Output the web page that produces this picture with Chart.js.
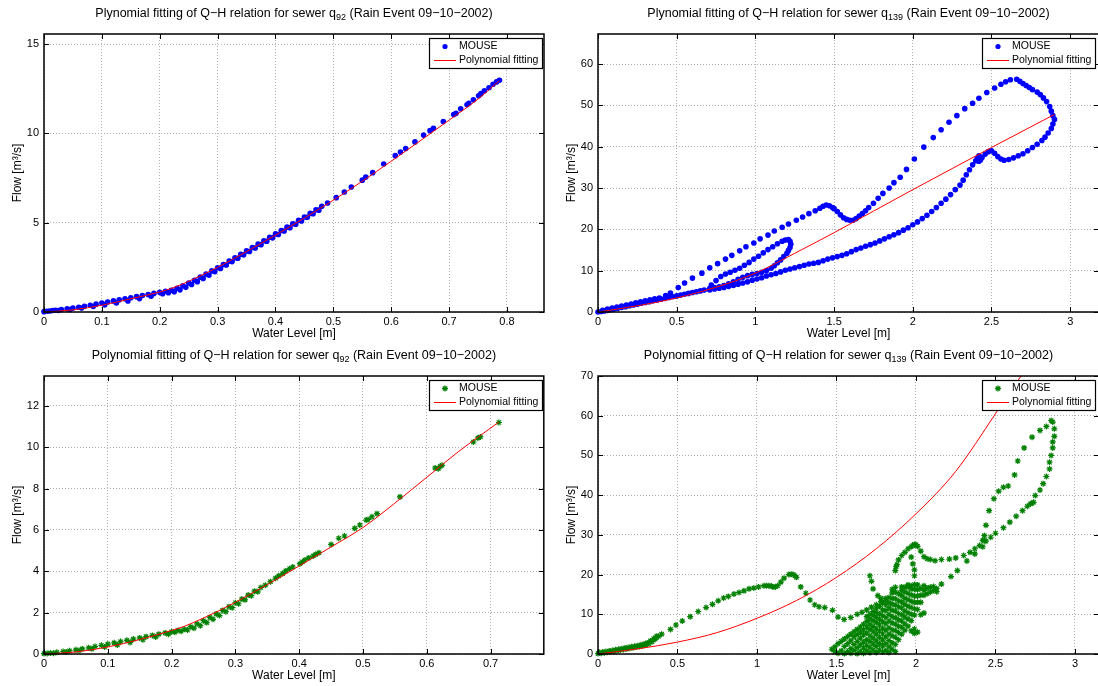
<!DOCTYPE html>
<html>
<head>
<meta charset="utf-8">
<script src="https://cdn.jsdelivr.net/npm/chart.js@4.4.1/dist/chart.umd.min.js"></script>
<style>
  body { margin: 0; width: 1098px; height: 686px; overflow: hidden; background: #fff; position: relative; }
  canvas { position: absolute; }
</style>
</head>
<body>
<canvas id="q92a" width="548" height="342" style="left:0;top:0"></canvas>
<canvas id="q139a" width="560" height="342" style="left:554px;top:0"></canvas>
<canvas id="q92b" width="548" height="342" style="left:0;top:342px"></canvas>
<canvas id="q139b" width="560" height="342" style="left:554px;top:342px"></canvas>
<script>
// [water level m, flow m3/s]

// top left: q92, blue
const mouseQ92Blue = [
  [0,0.02],[0.005,0.04],[0.01,0.06],[0.015,0.08],[0.02,0.1],[0.03,0.14],[0.04,0.18],[0.05,0.22],[0.06,0.27],[0.07,0.32],
  [0.08,0.38],[0.09,0.44],[0.1,0.5],[0.11,0.56],[0.12,0.62],[0.13,0.68],[0.14,0.74],[0.15,0.8],[0.16,0.86],[0.17,0.92],
  [0.18,0.98],[0.19,1.04],[0.2,1.1],[0.21,1.16],[0.22,1.22],[0.23,1.33],[0.24,1.47],[0.25,1.62],[0.26,1.78],[0.27,1.95],
  [0.28,2.12],[0.29,2.3],[0.3,2.48],[0.31,2.66],[0.32,2.85],[0.33,3.04],[0.34,3.23],[0.35,3.42],[0.36,3.61],[0.37,3.8],
  [0.38,3.99],[0.39,4.18],[0.4,4.37],[0.41,4.56],[0.42,4.75],[0.43,4.94],[0.44,5.13],[0.45,5.32],[0.46,5.52],[0.47,5.72],[0.48,5.92],
  [0.025,0.08],[0.045,0.14],[0.065,0.22],[0.085,0.31],[0.105,0.4],[0.125,0.5],[0.145,0.62],[0.165,0.75],[0.185,0.88],[0.205,1.02],
  [0.215,1.08],[0.225,1.14],[0.235,1.24],[0.245,1.38],[0.255,1.54],[0.265,1.7],[0.275,1.88],[0.285,2.06],[0.295,2.25],[0.305,2.44],
  [0.315,2.63],[0.325,2.82],[0.335,3.01],[0.345,3.2],[0.355,3.39],[0.365,3.58],[0.375,3.77],[0.385,3.96],[0.395,4.15],[0.405,4.34],
  [0.415,4.53],[0.425,4.72],[0.435,4.91],[0.445,5.1],[0.455,5.3],[0.465,5.5],[0.475,5.7],
  [0.49,6.1],[0.505,6.4],[0.519,6.72],[0.531,7.0],[0.55,7.38],[0.556,7.55],[0.568,7.8],[0.587,8.28],[0.607,8.75],[0.616,8.95],
  [0.625,9.15],[0.641,9.52],[0.656,9.9],[0.667,10.15],[0.673,10.28],[0.69,10.66],[0.708,11.05],[0.712,11.12],[0.72,11.38],[0.731,11.6],
  [0.734,11.68],[0.742,11.88],[0.751,12.1],[0.755,12.22],[0.761,12.38],[0.769,12.55],[0.776,12.75],[0.782,12.88],[0.787,12.97]
];
const fitQ92Blue = [
  [0,0],[0.05,0.12],[0.1,0.38],[0.15,0.74],[0.2,1.12],[0.22,1.32],[0.25,1.72],[0.3,2.5],[0.35,3.38],
  [0.4,4.3],[0.45,5.26],[0.5,6.26],[0.55,7.32],[0.6,8.44],[0.65,9.58],[0.7,10.74],[0.75,11.92],[0.787,12.95]
];

// top right: q139, blue
const mouseQ139Blue = [
  [0,0],[0.02,0.1],[0.04,0.25],[0.06,0.4],[0.08,0.55],[0.1,0.7],[0.125,0.9],[0.15,1.1],[0.175,1.3],[0.2,1.5],
  [0.225,1.7],[0.25,1.9],[0.275,2.1],[0.3,2.3],[0.325,2.5],[0.35,2.7],[0.375,2.9],[0.4,3.1],[0.425,3.3],[0.45,3.5],
  [0.475,3.7],[0.5,3.9],[0.525,4.1],[0.55,4.3],[0.575,4.5],[0.6,4.7],[0.625,4.9],[0.65,5.1],[0.675,5.3],
  [0.03,0.4],[0.06,0.7],[0.09,0.95],[0.12,1.2],[0.15,1.45],[0.18,1.7],[0.21,1.95],[0.24,2.2],[0.27,2.45],[0.3,2.7],
  [0.33,2.95],[0.36,3.2],[0.39,3.4],
  [0.43,4.0],[0.46,4.6],[0.51,5.9],[0.55,7.0],[0.6,8.2],[0.66,9.4],[0.71,10.7],[0.76,11.7],[0.81,12.8],[0.85,13.7],
  [0.9,14.8],[0.94,15.8],[0.99,16.7],[1.03,17.7],[1.08,18.6],[1.12,19.6],[1.17,20.5],[1.21,21.3],[1.26,22.2],[1.3,23.0],
  [1.34,23.8],[1.38,24.5],[1.41,25.1],[1.43,25.6],[1.45,25.9],[1.47,25.7],[1.49,25.3],[1.5,25.0],[1.52,24.3],[1.54,23.5],
  [1.56,22.8],[1.58,22.4],[1.6,22.2],[1.62,22.2],[1.64,22.6],[1.66,23.2],[1.68,23.8],[1.7,24.5],[1.72,25.3],[1.75,26.3],
  [1.78,27.5],[1.81,28.7],[1.85,30.0],[1.88,31.3],[1.92,32.6],[1.96,34.5],[2.01,37.0],[2.07,39.9],[2.13,42.2],[2.18,44.1],
  [2.23,45.9],[2.28,47.5],[2.33,49.2],[2.38,50.5],[2.42,51.7],[2.47,53.1],[2.52,54.2],[2.56,55.1],[2.59,55.7],[2.62,56.2],
  [2.66,56.3],[2.68,55.8],[2.7,55.3],[2.72,54.8],[2.74,54.3],[2.76,53.8],[2.79,53.2],[2.81,52.6],[2.83,51.8],[2.85,50.9],
  [2.87,49.7],[2.88,48.6],[2.89,47.5],[2.9,46.6],[2.89,45.5],[2.88,44.4],[2.86,43.3],[2.84,42.3],[2.82,41.5],[2.79,40.6],
  [2.76,39.8],[2.73,39.0],[2.7,38.3],[2.67,37.8],[2.64,37.3],[2.61,36.9],[2.58,36.7],[2.56,37.0],[2.54,37.6],[2.52,38.4],
  [2.5,39.0],[2.48,38.8],[2.46,38.2],[2.44,37.4],[2.43,36.8],[2.42,36.5],[2.41,37.2],[2.42,37.8],[2.4,36.6],
  [2.38,35.6],[2.36,34.4],[2.34,33.2],[2.32,31.9],[2.3,30.7],[2.27,29.6],[2.24,28.4],[2.21,27.3],[2.18,26.3],[2.15,25.3],
  [2.12,24.3],[2.09,23.4],[2.06,22.6],[2.03,21.8],[2.0,21.1],[1.97,20.4],[1.94,19.8],[1.91,19.2],[1.88,18.7],[1.85,18.2],
  [1.82,17.7],[1.79,17.2],[1.76,16.7],[1.73,16.3],[1.7,15.9],[1.67,15.5],[1.64,15.1],[1.61,14.6],[1.58,14.1],[1.55,13.7],
  [1.52,13.4],[1.49,13.1],[1.46,12.8],[1.43,12.4],[1.4,12.0],[1.37,11.8],[1.34,11.6],[1.31,11.3],[1.28,11.0],[1.25,10.7],
  [1.22,10.4],[1.19,10.1],[1.16,9.7],[1.13,9.3],[1.1,9.0],[1.07,8.7],[1.04,8.3],[1.01,8.0],[0.98,7.7],[0.95,7.3],
  [0.92,7.0],[0.89,6.7],[0.86,6.4],[0.83,6.2],[0.8,5.95],[0.77,5.75],[0.74,5.55],[0.71,5.35],
  [0.72,6.5],[0.75,7.6],[0.78,8.6],[0.81,9.2],[0.84,9.6],[0.87,10.1],[0.9,10.6],[0.93,11.3],[0.96,12.0],[0.99,12.8],
  [1.02,13.5],[1.05,14.3],[1.08,15.1],[1.11,15.8],[1.14,16.5],[1.17,17.1],[1.19,17.4],[1.21,17.5],[1.22,17.1],[1.225,16.4],
  [1.22,15.6],[1.21,14.9],[1.2,14.2],[1.18,13.4],[1.16,12.6],[1.14,11.9],[1.12,11.2],[1.1,10.6],[1.07,10.0],[1.04,9.6],
  [1.01,9.3],[0.98,9.1],[0.95,8.8],[0.92,8.4],[0.89,7.9],[0.86,7.3],[0.83,6.8],[0.8,6.4],[0.77,6.1],[0.74,5.9],[0.71,5.7]
];
const fitQ139Blue = [
  [0,0],[0.25,1.5],[0.5,3.4],[0.75,6.0],[1.0,9.4],[1.25,14.2],[1.5,19.2],[1.75,24.4],[2.0,29.6],
  [2.25,34.7],[2.5,39.8],[2.75,44.8],[2.9,47.8]
];

// bottom left: q92, green
const mouseQ92Green = [
  [0,0.02],[0.005,0.03],[0.01,0.05],[0.02,0.08],[0.03,0.12],[0.04,0.16],[0.05,0.2],[0.06,0.25],[0.07,0.3],[0.08,0.36],
  [0.09,0.42],[0.1,0.48],[0.11,0.54],[0.12,0.6],[0.13,0.66],[0.14,0.72],[0.15,0.78],[0.16,0.84],[0.17,0.9],[0.18,0.96],
  [0.19,1.02],[0.2,1.08],[0.21,1.14],[0.22,1.2],[0.23,1.32],[0.24,1.46],[0.25,1.61],[0.26,1.77],[0.27,1.94],[0.28,2.11],
  [0.29,2.29],[0.3,2.48],[0.31,2.66],[0.32,2.85],[0.33,3.04],[0.34,3.22],
  [0.015,0.04],[0.035,0.1],[0.055,0.17],[0.075,0.25],[0.095,0.34],[0.115,0.44],[0.135,0.56],[0.155,0.69],[0.175,0.82],[0.195,0.96],
  [0.205,1.05],[0.215,1.1],[0.225,1.16],[0.235,1.25],[0.245,1.37],[0.255,1.52],[0.265,1.68],[0.275,1.86],[0.285,2.05],[0.295,2.24],
  [0.305,2.43],[0.315,2.62],[0.325,2.82],[0.335,3.01],
  [0.347,3.33],[0.355,3.5],[0.363,3.67],[0.368,3.78],[0.374,3.89],[0.379,4.02],[0.385,4.13],[0.39,4.21],[0.401,4.37],[0.405,4.45],
  [0.409,4.55],[0.415,4.65],[0.422,4.74],[0.426,4.82],[0.431,4.9],[0.45,5.3],[0.462,5.6],[0.471,5.71],[0.487,6.08],[0.495,6.24],
  [0.505,6.48],[0.508,6.51],[0.514,6.64],[0.522,6.79],[0.558,7.6],[0.613,9.0],[0.618,8.96],[0.621,9.08],[0.624,9.13],
  [0.673,10.26],[0.68,10.45],[0.684,10.5],[0.713,11.2]
];
const fitQ92Green = [
  [0,0],[0.05,0.1],[0.1,0.34],[0.15,0.7],[0.2,1.14],[0.22,1.34],[0.25,1.74],[0.3,2.5],[0.35,3.36],
  [0.4,4.26],[0.45,5.18],[0.5,6.12],[0.55,7.3],[0.6,8.55],[0.65,9.8],[0.713,11.22]
];

// bottom right: q139, green
const mouseQ139Green = [
  [0,0.1],[0.02,0.2],[0.04,0.3],[0.06,0.45],[0.08,0.55],[0.1,0.7],[0.12,0.85],[0.14,1.0],[0.16,1.15],[0.18,1.3],
  [0.2,1.45],[0.22,1.6],[0.24,1.75],[0.26,1.9],[0.28,2.05],[0.3,2.25],[0.32,2.6],[0.34,3.1],[0.36,3.7],[0.38,4.4],[0.4,5.0],
  [0.01,0.35],[0.03,0.5],[0.05,0.6],[0.07,0.75],[0.09,0.9],[0.11,1.05],[0.13,1.2],[0.15,1.35],[0.17,1.5],[0.19,1.65],
  [0.21,1.8],[0.23,1.95],[0.25,2.1],[0.27,2.3],[0.29,2.5],[0.31,2.8],[0.33,3.3],[0.35,3.9],[0.37,4.5],
  [0.456,6.2],[0.49,7.3],[0.53,8.3],[0.58,9.4],[0.63,10.7],[0.68,11.7],[0.72,12.5],[0.756,13.4],[0.79,14.1],[0.82,14.5],
  [0.855,15.1],[0.887,15.5],[0.918,15.9],[0.95,16.4],[0.98,16.6],[1.01,16.9],[1.044,17.2],[1.06,17.2],[1.075,17.2],[1.09,17.1],
  [1.1,16.9],[1.115,16.9],[1.13,17.2],[1.15,18.1],[1.17,19.1],[1.2,20.0],[1.215,20.1],[1.227,20.0],[1.24,19.7],[1.248,19.3],
  [1.275,16.9],[1.307,15.3],[1.334,13.6],[1.363,12.4],[1.39,11.9],[1.426,11.7],[1.475,11.0],[1.51,9.3],[1.548,8.7],[1.59,9.2],
  [1.63,10.0],[1.66,10.5],[1.69,11.1],[1.72,11.8],[1.75,12.4],[1.78,13.2],[1.81,14.0],
  [1.47,1.2],[1.49,0.6],[1.49,1.8],[1.51,0.2],[1.51,2.6],[1.53,0.8],[1.53,3.2],
  [1.55,0.1],[1.55,1.9],[1.55,3.8],[1.57,0.6],[1.57,2.6],[1.57,4.4],
  [1.59,0.2],[1.59,1.4],[1.59,3.3],[1.59,5.0],[1.61,0.9],[1.61,2.4],[1.61,4.3],[1.61,5.6],
  [1.63,0.1],[1.63,1.6],[1.63,3.2],[1.63,4.9],[1.63,6.2],[1.65,0.6],[1.65,2.3],[1.65,4.0],[1.65,5.5],[1.65,6.8],
  [1.67,0.2],[1.67,1.5],[1.67,3.0],[1.67,4.8],[1.67,6.1],[1.67,7.5],
  [1.69,0.8],[1.69,2.2],[1.69,3.6],[1.69,5.3],[1.69,6.8],[1.69,8.2],[1.69,9.4],
  [1.71,0.3],[1.71,1.7],[1.71,3.2],[1.71,4.6],[1.71,6.2],[1.71,7.5],[1.71,8.8],[1.71,10.0],
  [1.73,1.0],[1.73,2.5],[1.73,4.0],[1.73,5.6],[1.73,6.9],[1.73,8.4],[1.73,9.7],[1.73,10.7],
  [1.75,0.4],[1.75,1.9],[1.75,3.3],[1.75,5.0],[1.75,6.3],[1.75,7.9],[1.75,9.2],[1.75,10.4],[1.75,11.4],
  [1.77,1.0],[1.77,2.6],[1.77,4.2],[1.77,5.8],[1.77,7.3],[1.77,8.7],[1.77,10.1],[1.77,12.0],
  [1.79,0.5],[1.79,2.0],[1.79,3.5],[1.79,5.1],[1.79,6.5],[1.79,8.1],[1.79,9.6],[1.79,11.1],[1.79,12.8],
  [1.81,0.9],[1.81,2.6],[1.81,4.3],[1.81,6.0],[1.81,7.6],[1.81,9.2],[1.81,10.9],[1.81,12.4],[1.81,13.5],
  [1.83,0.4],[1.83,1.8],[1.83,3.4],[1.83,5.0],[1.83,6.6],[1.83,8.3],[1.83,10.0],[1.83,11.6],[1.83,12.9],[1.83,14.2],
  [1.85,1.2],[1.85,2.8],[1.85,4.6],[1.85,6.1],[1.85,7.8],[1.85,9.4],[1.85,11.0],[1.85,12.6],[1.85,14.0],[1.85,15.4],[1.85,16.3],
  [1.87,0.6],[1.87,2.4],[1.87,4.2],[1.87,5.9],[1.87,7.5],[1.87,9.1],[1.87,10.8],[1.87,12.3],[1.87,13.9],[1.87,15.6],[1.87,16.8],
  [1.89,3.6],[1.89,5.4],[1.89,7.0],[1.89,8.6],[1.89,10.2],[1.89,11.9],[1.89,13.4],[1.89,15.2],
  [1.91,5.0],[1.91,6.7],[1.91,8.3],[1.91,9.9],[1.91,11.6],[1.91,13.1],[1.91,14.7],[1.91,16.0],[1.91,16.9],
  [1.93,6.0],[1.93,7.6],[1.93,9.3],[1.93,10.8],[1.93,12.5],[1.93,14.0],[1.93,15.6],[1.93,16.8],
  [1.95,7.0],[1.95,8.8],[1.95,10.4],[1.95,12.0],[1.95,13.7],[1.95,15.3],[1.95,16.9],[1.95,17.4],
  [1.97,5.8],[1.97,8.4],[1.97,10.0],[1.97,11.7],[1.97,13.3],[1.97,14.9],[1.97,16.4],[1.97,17.2],
  [1.99,5.2],[1.99,6.3],[1.99,9.8],[1.99,11.4],[1.99,13.0],[1.99,14.6],[1.99,16.3],[1.99,17.5],
  [2.01,5.5],[2.01,11.2],[2.01,13.0],[2.01,14.6],[2.01,16.2],[2.01,17.4],
  [2.03,9.9],[2.03,13.0],[2.03,14.8],[2.03,16.5],[2.05,10.3],[2.05,14.8],[2.05,16.0],[2.05,17.2],
  [2.07,15.2],[2.07,16.6],[2.09,15.6],[2.09,16.8],[2.11,16.0],[2.11,17.0],[2.13,15.7],[2.13,16.5],
  [1.71,19.7],[1.72,18.3],[1.73,16.4],[1.76,14.7],[1.78,14.0],
  [1.87,21.0],[1.875,22.0],[1.88,22.5],[1.89,23.7],[1.91,24.8],[1.93,25.6],[1.95,26.5],[1.97,27.0],[1.98,27.3],[1.99,27.6],
  [2.0,27.5],[2.01,27.1],[2.03,25.9],[2.05,24.5],[2.07,24.0],[2.09,23.8],[2.12,23.5],[2.16,23.8],[2.21,23.9],[2.25,24.2],
  [2.3,24.8],[2.34,25.6],[2.37,26.5],[2.4,27.3],[2.43,28.6],
  [1.97,24.4],[1.98,22.7],[1.99,21.2],[1.99,19.7],
  [2.16,17.6],[2.22,19.5],[2.26,21.0],[2.32,23.4],[2.37,25.2],[2.42,27.0],[2.44,28.4],[2.47,29.4],[2.5,30.4],[2.55,31.8],
  [2.59,33.2],[2.63,34.7],[2.67,36.1],[2.7,37.2],[2.72,37.8],[2.73,38.0],[2.74,38.2],[2.75,39.9],[2.78,41.3],[2.8,42.9],
  [2.82,44.7],[2.84,46.6],[2.84,48.3],[2.85,50.0],[2.86,51.9],[2.86,53.4],[2.87,54.8],[2.87,56.7],[2.86,58.4],[2.85,58.8],
  [2.82,57.3],[2.78,56.3],[2.73,54.6],[2.68,51.9],[2.64,48.6],[2.62,45.1],[2.58,42.3],[2.55,42.0],[2.52,41.0],[2.49,39.1],
  [2.46,36.1],[2.44,32.4],[2.43,29.8],[2.42,28.6]
];
const fitQ139Green = [
  [0,0],[0.25,1.3],[0.5,3.0],[0.75,5.4],[1.0,9.0],[1.25,13.5],[1.5,19.3],[1.75,26.5],[2.0,35.3],
  [2.25,46.0],[2.5,60.5],[2.6,66.5],[2.66,70.0],[2.7,72.8]
];

const titleHeads = ['Plynomial fitting of Q\u2212H relation for sewer q', 'Polynomial fitting of Q\u2212H relation for sewer q'];
const titleTail = ' (Rain Event 09\u221210\u22122002)';
const legendLabels = ['MOUSE', 'Polynomial fitting'];

const FONT = '"Liberation Sans", Arial, Helvetica, sans-serif';
Chart.defaults.font.family = FONT;
Chart.defaults.color = '#000';

const fmt = v => String(Math.round(v * 100) / 100);

// box, inner ticks, title with subscript and legend, matlab style
const framePlugin = {
  id: 'frame',
  afterDatasetsDraw(chart, args, o) {
    const { ctx, chartArea: a } = chart;
    const xs = chart.scales.x, ys = chart.scales.y;
    ctx.save();
    ctx.strokeStyle = '#000';
    ctx.lineWidth = 1;
    ctx.beginPath();
    xs.ticks.forEach(t => {
      const p = Math.round(xs.getPixelForValue(t.value)) + 0.5;
      ctx.moveTo(p, a.bottom); ctx.lineTo(p, a.bottom - 5);
      ctx.moveTo(p, a.top); ctx.lineTo(p, a.top + 5);
    });
    ys.ticks.forEach(t => {
      const p = Math.round(ys.getPixelForValue(t.value)) + 0.5;
      ctx.moveTo(a.left, p); ctx.lineTo(a.left + 5, p);
      ctx.moveTo(a.right, p); ctx.lineTo(a.right - 5, p);
    });
    ctx.stroke();
    ctx.lineWidth = 1.5;
    ctx.strokeRect(a.left, a.top, a.right - a.left, a.bottom - a.top);

    // legend
    const lw = 113, lh = 30;
    const lx = Math.round(a.right - o.inset - lw), ly = Math.round(a.top + 4);
    ctx.fillStyle = '#fff';
    ctx.fillRect(lx, ly, lw, lh);
    ctx.lineWidth = 1.2;
    ctx.strokeRect(lx + 0.5, ly + 0.5, lw, lh);
    const r1 = ly + 8.5, r2 = ly + 22.5;
    if (o.star) {
      ctx.strokeStyle = o.color; ctx.lineWidth = 1.3;
      ctx.beginPath();
      const cx = lx + 16, s = 3;
      ctx.moveTo(cx - s, r1); ctx.lineTo(cx + s, r1);
      ctx.moveTo(cx, r1 - s); ctx.lineTo(cx, r1 + s);
      ctx.moveTo(cx - 2.1, r1 - 2.1); ctx.lineTo(cx + 2.1, r1 + 2.1);
      ctx.moveTo(cx - 2.1, r1 + 2.1); ctx.lineTo(cx + 2.1, r1 - 2.1);
      ctx.stroke();
    } else {
      ctx.fillStyle = o.color;
      ctx.beginPath(); ctx.arc(lx + 16, r1, 2.6, 0, Math.PI * 2); ctx.fill();
    }
    ctx.strokeStyle = '#ff0000'; ctx.lineWidth = 1;
    ctx.beginPath(); ctx.moveTo(lx + 5, r2); ctx.lineTo(lx + 27, r2); ctx.stroke();
    ctx.fillStyle = '#000';
    ctx.font = '10.5px ' + FONT;
    ctx.textBaseline = 'middle';
    ctx.textAlign = 'left';
    ctx.fillText(legendLabels[0], lx + 30, r1);
    ctx.fillText(legendLabels[1], lx + 30, r2);

    // title
    const y = a.top - 20;
    const big = '12.5px ' + FONT, small = '9px ' + FONT;
    ctx.font = big;
    const w1 = ctx.measureText(o.head).width, w3 = ctx.measureText(titleTail).width;
    ctx.font = small;
    const w2 = ctx.measureText(o.sub).width;
    let x = (a.left + a.right) / 2 - (w1 + w2 + w3) / 2;
    ctx.font = big;
    ctx.fillText(o.head, x, y); x += w1;
    ctx.font = small;
    ctx.fillText(o.sub, x, y + 4); x += w2;
    ctx.font = big;
    ctx.fillText(titleTail, x, y);
    ctx.restore();
  }
};

function makeChart(id, mouse, fit, opt) {
  const dots = opt.star
    ? { pointStyle: 'star', pointRadius: 3, borderColor: opt.color, borderWidth: 1.2, backgroundColor: opt.color }
    : { pointStyle: 'circle', pointRadius: 2.8, borderWidth: 0, backgroundColor: opt.color };
  return new Chart(document.getElementById(id), {
    type: 'scatter',
    data: {
      datasets: [
        Object.assign({
          label: legendLabels[0],
          data: mouse.map(([x, y]) => ({ x, y })),
          pointHoverRadius: 0,
          clip: false,
          order: 2
        }, dots),
        {
          label: legendLabels[1],
          data: fit.map(([x, y]) => ({ x, y })),
          showLine: true,
          borderColor: '#ff0000',
          borderWidth: 1,
          pointRadius: 0,
          cubicInterpolationMode: 'monotone',
          order: 1
        }
      ]
    },
    options: {
      responsive: false,
      animation: false,
      events: [],
      layout: { padding: { top: 34, right: opt.right, left: 0, bottom: 0 } },
      plugins: {
        legend: { display: false },
        tooltip: { enabled: false },
        frame: { head: opt.head, sub: opt.sub, inset: opt.inset, color: opt.color, star: opt.star }
      },
      scales: {
        x: {
          type: 'linear',
          min: 0,
          max: opt.xMax,
          afterFit: s => { s.height = 30; },
          ticks: { stepSize: opt.xStep, includeBounds: false, padding: 3, font: { size: 11 }, maxRotation: 0, autoSkip: false, callback: fmt },
          grid: { color: '#b0b0b0', drawTicks: false },
          border: { display: false, dash: [1, 2] },
          title: { display: true, text: 'Water Level [m]', font: { size: 12 }, padding: { top: 0, bottom: 1 } }
        },
        y: {
          type: 'linear',
          min: 0,
          max: opt.yMax,
          afterFit: s => { s.width = 44; },
          ticks: { stepSize: opt.yStep, includeBounds: false, padding: 5, font: { size: 11 }, callback: fmt },
          grid: { color: '#b0b0b0', drawTicks: false },
          border: { display: false, dash: [1, 2] },
          title: { display: true, text: 'Flow [m\u00b3/s]', font: { size: 12 }, padding: { top: 10, bottom: 0 } }
        }
      }
    },
    plugins: [framePlugin]
  });
}

makeChart('q92a', mouseQ92Blue, fitQ92Blue,
  { color: '#0000ff', star: false, head: titleHeads[0], sub: '92', xMax: 0.864, xStep: 0.1, yMax: 15.56, yStep: 5, right: 4, inset: 2 });
makeChart('q139a', mouseQ139Blue, fitQ139Blue,
  { color: '#0000ff', star: false, head: titleHeads[0], sub: '139', xMax: 3.183, xStep: 0.5, yMax: 67.26, yStep: 10, right: 15, inset: 4 });
makeChart('q92b', mouseQ92Green, fitQ92Green,
  { color: '#008000', star: true, head: titleHeads[1], sub: '92', xMax: 0.7834, xStep: 0.1, yMax: 13.45, yStep: 2, right: 4, inset: 2 });
makeChart('q139b', mouseQ139Green, fitQ139Green,
  { color: '#008000', star: true, head: titleHeads[1], sub: '139', xMax: 3.151, xStep: 0.5, yMax: 70, yStep: 10, right: 15, inset: 4 });
</script>
</body>
</html>
